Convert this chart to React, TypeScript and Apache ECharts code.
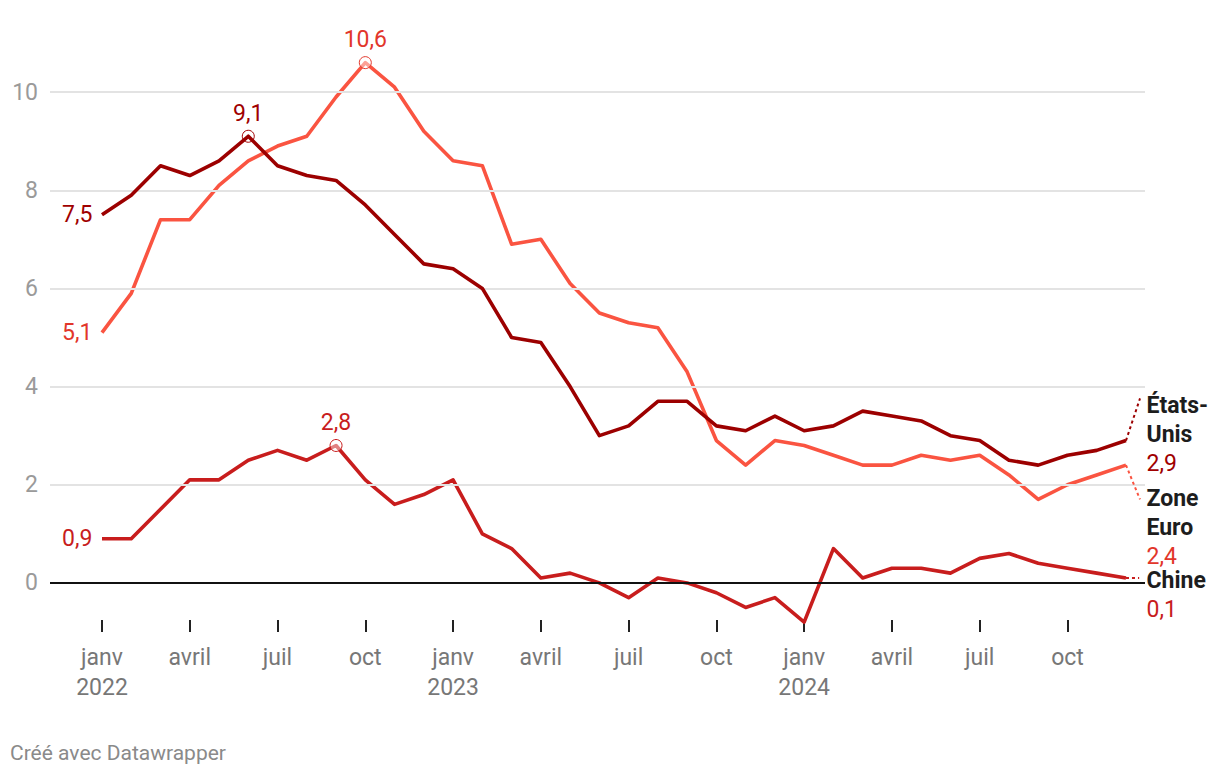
import React, { useEffect, useRef } from 'react';
import * as echarts from 'echarts';

// ---- Data ----
const START_YEAR = 2022;
const MONTH_TICK_LABELS = ['janv', 'avril', 'juil', 'oct'];
const X_TICKS = [0, 3, 6, 9, 12, 15, 18, 21, 24, 27, 30, 33];
const Y_TICKS = [0, 2, 4, 6, 8, 10];

const US = [7.5, 7.9, 8.5, 8.3, 8.6, 9.1, 8.5, 8.3, 8.2, 7.7, 7.1, 6.5,
  6.4, 6.0, 5.0, 4.9, 4.0, 3.0, 3.2, 3.7, 3.7, 3.2, 3.1, 3.4,
  3.1, 3.2, 3.5, 3.4, 3.3, 3.0, 2.9, 2.5, 2.4, 2.6, 2.7, 2.9];
const EURO = [5.1, 5.9, 7.4, 7.4, 8.1, 8.6, 8.9, 9.1, 9.9, 10.6, 10.1, 9.2,
  8.6, 8.5, 6.9, 7.0, 6.1, 5.5, 5.3, 5.2, 4.3, 2.9, 2.4, 2.9,
  2.8, 2.6, 2.4, 2.4, 2.6, 2.5, 2.6, 2.2, 1.7, 2.0, 2.2, 2.4];
const CHINA = [0.9, 0.9, 1.5, 2.1, 2.1, 2.5, 2.7, 2.5, 2.8, 2.1, 1.6, 1.8,
  2.1, 1.0, 0.7, 0.1, 0.2, 0.0, -0.3, 0.1, 0.0, -0.2, -0.5, -0.3,
  -0.8, 0.7, 0.1, 0.3, 0.3, 0.2, 0.5, 0.6, 0.4, 0.3, 0.2, 0.1];

const SERIES_NAMES = ['États-Unis', 'Zone Euro', 'Chine'];
const END_LABELS = [['États-', 'Unis'], ['Zone', 'Euro'], ['Chine']];

// ---- Styles ----
const FONT = 'Roboto';
const LINE_COLORS = ['#9c0000', '#fa5441', '#c81d1d'];
const TEXT_COLORS = ['#a00000', '#e2362a', '#c81d1d'];
// connector end (dx in index units, dy in value units) and label vertical offset (px)
const CONNECTORS = [[0.48, 0.86], [0.48, -0.7], [0.45, 0]];
const END_LABEL_DY = [-6, 62, 17];

const fmt = (v: number) => v.toFixed(1).replace('.', ',');
const argMax = (a: number[]) => a.reduce((bi, v, i) => (v > a[bi] ? i : bi), 0);

export default function App() {
  const ref = useRef<HTMLDivElement>(null);

  useEffect(() => {
    if (!ref.current) return;
    const chart = echarts.init(ref.current, undefined, { renderer: 'svg' });
    const all = [US, EURO, CHINA];
    const last = US.length - 1;

    const series: any[] = [];
    // gridlines
    series.push({
      type: 'line',
      data: [],
      z: 1,
      silent: true,
      markLine: {
        silent: true,
        symbol: ['none', 'none'],
        label: { show: false },
        animation: false,
        data: Y_TICKS.map((v) => ({
          yAxis: v,
          lineStyle: v === 0
            ? { color: '#111', width: 2, type: 'solid' }
            : { color: '#e3e3e3', width: 2, type: 'solid' },
        })),
      },
    });

    all.forEach((arr, s) => {
      const peak = argMax(arr);
      const endName = END_LABELS[s].map((t) => `{n|${t}}`).join('\n');
      series.push({
        name: SERIES_NAMES[s],
        type: 'line',
        z: 5 - s,
        data: arr.map((v, i) => [i, v]),
        symbol: 'none',
        clip: false,
        lineStyle: { color: LINE_COLORS[s], width: 3.6, join: 'round' },
        markPoint: {
          animation: false,
          data: [
            {
              coord: [0, arr[0]],
              symbol: 'circle',
              symbolSize: 1,
              itemStyle: { color: 'rgba(0,0,0,0)' },
              label: {
                show: true,
                position: 'left',
                distance: 9,
                formatter: fmt(arr[0]),
                color: TEXT_COLORS[s],
                fontSize: 23,
                fontFamily: FONT,
              },
            },
            {
              coord: [peak, arr[peak]],
              symbol: 'circle',
              symbolSize: 12,
              itemStyle: { color: 'rgba(255,255,255,0.45)', borderColor: TEXT_COLORS[s], borderWidth: 1 },
              label: {
                show: true,
                position: 'top',
                distance: 5,
                formatter: fmt(arr[peak]),
                color: TEXT_COLORS[s],
                fontSize: 23,
                fontFamily: FONT,
              },
            },
            {
              coord: [last, arr[last]],
              symbol: 'circle',
              symbolSize: 1,
              itemStyle: { color: 'rgba(0,0,0,0)' },
              label: {
                show: true,
                position: 'right',
                distance: 20,
                offset: [0, END_LABEL_DY[s]],
                align: 'left',
                formatter: `${endName}\n{v|${fmt(arr[last])}}`,
                rich: {
                  n: { fontFamily: FONT, fontSize: 23, fontWeight: 'bold', color: '#1d1d1d', lineHeight: 29 },
                  v: { fontFamily: FONT, fontSize: 23, color: TEXT_COLORS[s], lineHeight: 29 },
                },
              },
            },
          ],
        },
        markLine: {
          silent: true,
          animation: false,
          symbol: ['none', 'none'],
          label: { show: false },
          lineStyle: { color: LINE_COLORS[s], width: 2, type: [3, 3] },
          data: [[
            { coord: [last, arr[last]] },
            { coord: [last + CONNECTORS[s][0], arr[last] + CONNECTORS[s][1]] },
          ]],
        },
      });
    });

    chart.setOption({
      animation: false,
      textStyle: { fontFamily: FONT },
      grid: { left: 50, right: 75, top: 43, bottom: 146, containLabel: false },
      xAxis: {
        type: 'value',
        min: -1.777,
        max: 35.65,
        axisLine: { show: false, onZero: false },
        splitLine: { show: false },
        axisTick: {
          show: true,
          inside: true,
          length: 12,
          customValues: X_TICKS,
          lineStyle: { color: '#222', width: 2 },
        },
        axisLabel: {
          customValues: X_TICKS,
          margin: 10,
          fontSize: 23,
          lineHeight: 30,
          color: '#777',
          fontFamily: FONT,
          formatter: (v: number) => {
            const m = Math.round(v) % 12;
            const name = MONTH_TICK_LABELS[m / 3];
            return m === 0 ? `${name}\n${START_YEAR + Math.round(v) / 12}` : name;
          },
        },
      },
      yAxis: {
        type: 'value',
        min: -1,
        max: 11,
        axisLine: { show: false },
        axisTick: { show: false, customValues: Y_TICKS },
        splitLine: { show: false },
        axisLabel: {
          customValues: Y_TICKS,
          margin: 12,
          fontSize: 23,
          color: '#9a9a9a',
          fontFamily: FONT,
        },
      },
      graphic: [
        {
          type: 'text',
          left: 10,
          top: 742,
          style: { text: 'Créé avec Datawrapper', fill: '#8a8a8a', fontSize: 21, fontFamily: FONT },
        },
      ],
      series,
    });

    return () => chart.dispose();
  }, []);

  return (
    <div
      ref={ref}
      style={{ position: 'absolute', left: 0, top: 0, width: 1220, height: 778, background: '#fff' }}
    />
  );
}
